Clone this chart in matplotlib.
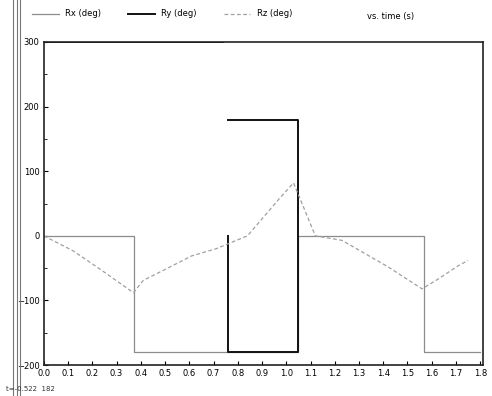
import matplotlib
matplotlib.use("Agg")
import matplotlib.pyplot as plt
from matplotlib.lines import Line2D
from matplotlib.ticker import MultipleLocator

nan = float("nan")

# step profiles (time in s, angle in deg)
rx_t = [0.0, 0.37, 0.37, 1.05, 1.05, 1.57, 1.57, 1.80]
rx_v = [0, 0, -180, -180, 0, 0, -180, -180]

# the jump from the top down to 180 is barely visible in the scan, so it is left open
ry_t = [0.0, 0.74, nan, 0.76, 1.05, 1.05, 0.76, 0.76]
ry_v = [300, 300, nan, 180, 180, -180, -180, 0]

rz_t = [0.0, 0.12, 0.23, 0.37, 0.41, 0.50, 0.61, 0.71, 0.84, 0.97, 1.03, 1.12, 1.23, 1.42, 1.56, 1.63, 1.71, 1.75]
rz_v = [0, -23, -51, -88, -69, -52, -31, -20, 0, 57, 82, 0, -7, -48, -82, -66, -46, -38]

x_ticks = [round(i * 0.1, 1) for i in range(19)]
y_ticks = [300, 200, 100, 0, -100, -200]

fig = plt.figure(figsize=(4.92, 3.96), dpi=100)
ax = fig.add_axes([0.089, 0.078, 0.893, 0.816])

ax.plot(rx_t, rx_v, color="#8c8c8c", lw=0.9, label="Rx (deg)")
ax.plot(ry_t, ry_v, color="#111111", lw=1.4, label="Ry (deg)")
ax.plot(rz_t, rz_v, color="#a0a0a0", lw=0.9, ls=(0, (3, 2)), label="Rz (deg)")

ax.set_xlim(0, 1.812)
ax.set_ylim(-200, 300)
ax.set_xticks(x_ticks)
ax.set_xticklabels([f"{t:.1f}" for t in x_ticks])
ax.set_yticks(y_ticks)
ax.yaxis.set_minor_locator(MultipleLocator(50))
ax.tick_params(axis="both", direction="in", labelsize=6, length=3, width=0.8, pad=3)
ax.tick_params(axis="y", which="minor", direction="in", length=2)
for s in ax.spines.values():
    s.set_linewidth(1.2)
    s.set_color("#222222")

# legend strip along the top
handles, labels = ax.get_legend_handles_labels()
fig.legend(handles, labels, loc="upper left", bbox_to_anchor=(0.05, 0.995), ncol=3,
           frameon=False, fontsize=6, handlelength=3.2, columnspacing=3.2)
fig.text(0.745, 0.958, "vs. time (s)", fontsize=6, va="center")

# cursor readout at the bottom left
fig.text(0.012, 0.012, "t=-0.522  182", fontsize=5, color="#333333")

# scanner edge on the left
for xf in (0.027, 0.035, 0.041):
    fig.add_artist(Line2D([xf, xf], [0.0, 1.0], color="#777777", lw=0.8))

fig.savefig("out.png", dpi=100)
